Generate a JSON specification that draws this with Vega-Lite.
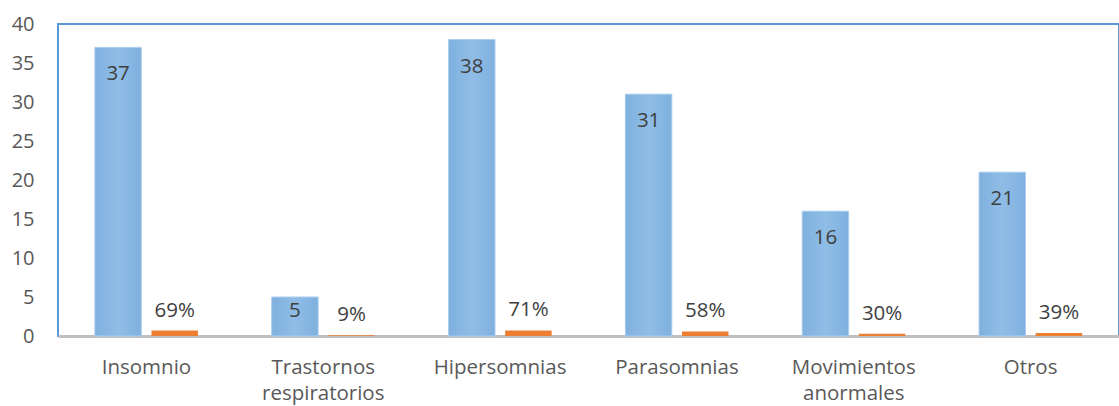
{
  "$schema": "https://vega.github.io/schema/vega-lite/v6.json",
  "autosize": "none",
  "width": 1061,
  "height": 312,
  "padding": {"left": 58, "top": 24, "right": 0, "bottom": 70},
  "background": "white",
  "config": {
    "view": {"stroke": "#5B9BD5", "strokeWidth": 2},
    "font": "Open Sans"
  },
  "data": {
    "values": [
      {"categoria": "Insomnio", "serie": "Casos", "valor": 37},
      {"categoria": "Insomnio", "serie": "Porcentaje", "valor": 0.69},
      {"categoria": "Trastornos respiratorios", "serie": "Casos", "valor": 5},
      {"categoria": "Trastornos respiratorios", "serie": "Porcentaje", "valor": 0.09},
      {"categoria": "Hipersomnias", "serie": "Casos", "valor": 38},
      {"categoria": "Hipersomnias", "serie": "Porcentaje", "valor": 0.71},
      {"categoria": "Parasomnias", "serie": "Casos", "valor": 31},
      {"categoria": "Parasomnias", "serie": "Porcentaje", "valor": 0.58},
      {"categoria": "Movimientos anormales", "serie": "Casos", "valor": 16},
      {"categoria": "Movimientos anormales", "serie": "Porcentaje", "valor": 0.30},
      {"categoria": "Otros", "serie": "Casos", "valor": 21},
      {"categoria": "Otros", "serie": "Porcentaje", "valor": 0.39}
    ]
  },
  "encoding": {
    "x": {
      "field": "categoria",
      "type": "nominal",
      "sort": null,
      "scale": {"paddingInner": 0.417, "paddingOuter": 0.2085},
      "axis": {
        "title": null,
        "labelAngle": 0,
        "ticks": false,
        "domainColor": "#BFBFBF",
        "domainWidth": 3,
        "labelFont": "Open Sans",
        "labelFontSize": 20.5,
        "labelColor": "#595959",
        "labelPadding": 21,
        "labelLineHeight": 26,
        "labelExpr": "split(datum.label, ' ')"
      }
    },
    "xOffset": {
      "field": "serie",
      "type": "nominal",
      "scale": {"domain": ["Casos", "Porcentaje"], "paddingInner": 0.18}
    },
    "y": {
      "field": "valor",
      "type": "quantitative",
      "scale": {"domain": [0, 40], "nice": false},
      "axis": {
        "title": null,
        "values": [0, 5, 10, 15, 20, 25, 30, 35, 40],
        "grid": false,
        "ticks": false,
        "domain": false,
        "labelFont": "Open Sans",
        "labelFontSize": 20,
        "labelColor": "#595959",
        "labelPadding": 24
      }
    }
  },
  "layer": [
    {
      "transform": [{"filter": "datum.serie == 'Casos'"}],
      "mark": {
        "type": "bar",
        "stroke": "#A9CDEE",
        "strokeWidth": 1,
        "fill": {
          "gradient": "linear",
          "x1": 0, "x2": 1, "y1": 0, "y2": 0,
          "stops": [
            {"offset": 0, "color": "#7FB0DE"},
            {"offset": 0.5, "color": "#8FBDE6"},
            {"offset": 1, "color": "#7FB0DE"}
          ]
        }
      }
    },
    {
      "transform": [{"filter": "datum.serie == 'Porcentaje'"}],
      "mark": {"type": "bar", "fill": "#ED7D31"}
    },
    {
      "transform": [{"filter": "datum.serie == 'Casos'"}],
      "mark": {"type": "text", "baseline": "middle", "fontSize": 20.5, "font": "Open Sans", "color": "#404040"},
      "encoding": {
        "text": {"field": "valor", "type": "quantitative", "format": "d"},
        "yOffset": {"value": {"expr": "datum.valor < 10 ? 14 : 27"}}
      }
    },
    {
      "transform": [{"filter": "datum.serie == 'Porcentaje'"}],
      "mark": {"type": "text", "baseline": "middle", "dy": -20, "fontSize": 20.5, "font": "Open Sans", "color": "#404040"},
      "encoding": {
        "text": {"field": "valor", "type": "quantitative", "format": ".0%"}
      }
    }
  ]
}
